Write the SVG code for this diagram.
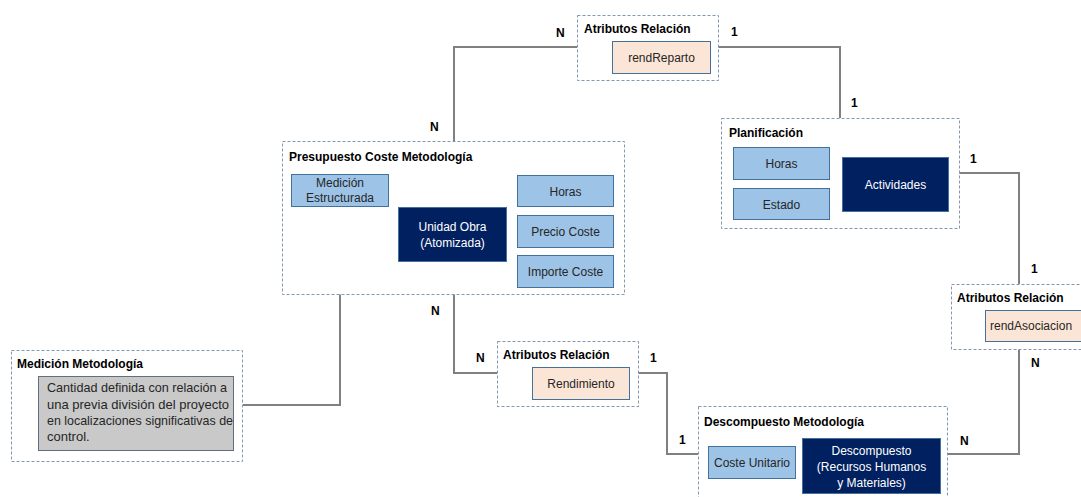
<svg xmlns="http://www.w3.org/2000/svg" width="1081" height="497" viewBox="0 0 1081 497">
<style>
.grp{fill:#fff;stroke:#8497B0;stroke-width:1;stroke-dasharray:3,2}
.lb{fill:#9DC3E6;stroke:#41719C;stroke-width:1}
.dk{fill:#002060;stroke:#41719C;stroke-width:1}
.pc{fill:#FBE5D6;stroke:#41719C;stroke-width:1}
.gy{fill:#C9C9C9;stroke:#5F6F82;stroke-width:1}
text{font-family:"Liberation Sans",Arial,sans-serif;font-size:12px;fill:#262626}
.t{font-weight:bold;fill:#000}
.c{text-anchor:middle}
.w{fill:#fff}
.g{font-size:13px}
.card{font-weight:bold;fill:#000;font-size:12px}
.con{fill:none;stroke:#808080;stroke-width:2}
</style>
<rect width="1081" height="497" fill="#fff"/>
<g id="connectors">
<polyline class="con" points="577,47 454,47 454,141"/>
<polyline class="con" points="718,47 840,47 840,118"/>
<polyline class="con" points="959,173 1019,173 1019,284"/>
<polyline class="con" points="1019,349 1019,454 947,454"/>
<polyline class="con" points="340,206 340,405 243,405"/>
<polyline class="con" points="454,294 454,373 497,373"/>
<polyline class="con" points="638,373 667,373 667,454 698,454"/>
<text class="card" x="556" y="37">N</text>
<text class="card" x="430" y="131">N</text>
<text class="card" x="731" y="36">1</text>
<text class="card" x="851" y="107">1</text>
<text class="card" x="970" y="163">1</text>
<text class="card" x="1031" y="273">1</text>
<text class="card" x="1031" y="367">N</text>
<text class="card" x="960" y="445">N</text>
<text class="card" x="431" y="315">N</text>
<text class="card" x="476" y="362">N</text>
<text class="card" x="650" y="362">1</text>
<text class="card" x="679" y="444">1</text>
</g>
<g id="atributos-top">
<rect class="grp" x="577.5" y="15.5" width="141" height="65"/>
<text class="t" x="584" y="33">Atributos Relación</text>
<rect class="pc" x="612.5" y="41.5" width="98" height="32"/>
<text class="c" x="661.5" y="62">rendReparto</text>
</g>
<g id="planificacion">
<rect class="grp" x="721.5" y="118.5" width="238" height="110"/>
<text class="t" x="729" y="137">Planificación</text>
<rect class="lb" x="733.5" y="147.5" width="96" height="32"/>
<text class="c" x="781.5" y="168">Horas</text>
<rect class="lb" x="733.5" y="188.5" width="96" height="31"/>
<text class="c" x="781.5" y="209">Estado</text>
<rect class="dk" x="842.5" y="157.5" width="106" height="54"/>
<text class="c w" x="895.5" y="189">Actividades</text>
</g>
<g id="atributos-right">
<rect class="grp" x="951.5" y="284.5" width="135" height="65"/>
<text class="t" x="957" y="302">Atributos Relación</text>
<rect class="pc" x="985.5" y="310.5" width="100" height="31"/>
<text x="990" y="330">rendAsociacion</text>
</g>
<g id="presupuesto">
<rect class="grp" x="282.5" y="141.5" width="342" height="153"/>
<text class="t" x="289" y="161">Presupuesto Coste Metodología</text>
<rect class="lb" x="291.5" y="174.5" width="97" height="32"/>
<text class="c" x="340" y="187">Medición</text>
<text class="c" x="340" y="202">Estructurada</text>
<rect class="dk" x="398.5" y="207.5" width="108" height="54"/>
<text class="c w" x="452.5" y="231">Unidad Obra</text>
<text class="c w" x="452.5" y="247">(Atomizada)</text>
<rect class="lb" x="517.5" y="175.5" width="96" height="31"/>
<text class="c" x="565.5" y="196">Horas</text>
<rect class="lb" x="517.5" y="215.5" width="96" height="32"/>
<text class="c" x="565.5" y="236">Precio Coste</text>
<rect class="lb" x="517.5" y="255.5" width="96" height="32"/>
<text class="c" x="565.5" y="276">Importe Coste</text>
</g>
<g id="medicion-metodologia">
<rect class="grp" x="11.5" y="350.5" width="231" height="111"/>
<text class="t" x="17" y="368">Medición Metodología</text>
<rect class="gy" x="38.5" y="376.5" width="195" height="74"/>
<text class="g" x="47" y="392" textLength="180" lengthAdjust="spacingAndGlyphs">Cantidad definida con relación a</text>
<text class="g" x="47" y="409" textLength="182" lengthAdjust="spacingAndGlyphs">una previa división del proyecto</text>
<text class="g" x="47" y="425" textLength="186" lengthAdjust="spacingAndGlyphs">en localizaciones significativas de</text>
<text class="g" x="47" y="441">control.</text>
</g>
<g id="atributos-mid">
<rect class="grp" x="497.5" y="341.5" width="141" height="65"/>
<text class="t" x="503" y="359">Atributos Relación</text>
<rect class="pc" x="532.5" y="367.5" width="97" height="32"/>
<text class="c" x="581" y="388">Rendimiento</text>
</g>
<g id="descompuesto">
<rect class="grp" x="698.5" y="406.5" width="249" height="100"/>
<text class="t" x="704" y="426">Descompuesto Metodología</text>
<rect class="lb" x="708.5" y="446.5" width="87" height="32"/>
<text class="c" x="752" y="467">Coste Unitario</text>
<rect class="dk" x="802.5" y="438.5" width="138" height="55"/>
<text class="c w" x="871.5" y="455">Descompuesto</text>
<text class="c w" x="871.5" y="471">(Recursos Humanos</text>
<text class="c w" x="871.5" y="487">y Materiales)</text>
</g>
</svg>
